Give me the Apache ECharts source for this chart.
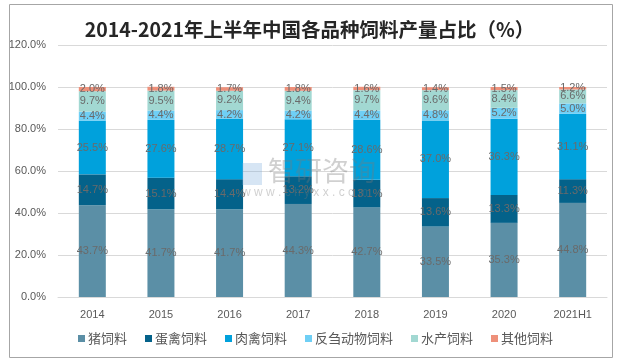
<!DOCTYPE html>
<html><head><meta charset="utf-8">
<script src="https://cdn.jsdelivr.net/npm/echarts@6/dist/echarts.min.js"></script>
<style>html,body{margin:0;padding:0;background:#fff}#c{width:619px;height:362px}</style>
</head><body><div id="c"></div>
<script>
var categories = ['2014','2015','2016','2017','2018','2019','2020','2021H1'];
var seriesNames = ['猪饲料','蛋禽饲料','肉禽饲料','反刍动物饲料','水产饲料','其他饲料'];
var pig   = [43.7, 41.7, 41.7, 44.3, 42.7, 33.5, 35.3, 44.8];
var egg   = [14.7, 15.1, 14.4, 13.2, 13.1, 13.6, 13.3, 11.3];
var meat  = [25.5, 27.6, 28.7, 27.1, 28.6, 37.0, 36.3, 31.1];
var rum   = [4.4, 4.4, 4.2, 4.2, 4.4, 4.8, 5.2, 5.0];
var aqua  = [9.7, 9.5, 9.2, 9.4, 9.7, 9.6, 8.4, 6.6];
var other = [2.0, 1.8, 1.7, 1.8, 1.6, 1.4, 1.5, 1.2];
var yTicks = [0, 20, 40, 60, 80, 100, 120];

var colors = ['#5B8FA6', '#04628A', '#00A1DC', '#6FCFF5', '#A2D8D2', '#EE907A'];
var allData = [pig, egg, meat, rum, aqua, other];

var chart = echarts.init(document.getElementById('c'), null, {renderer:'canvas'});
var series = allData.map(function(d, i){
  return {
    name: seriesNames[i], type: 'bar', stack: 'total', barWidth: 27,
    itemStyle: {color: colors[i]},
    label: {show: true, position: 'inside', formatter: function(p){return p.value.toFixed(1)+'%';},
      color: '#6a6a6a', fontSize: 11, fontFamily: 'Liberation Sans, Arial, sans-serif'},
    data: d
  };
});
chart.setOption({
  animation: false,
  color: colors,
  title: {text: '2014-2021年上半年中国各品种饲料产量占比（%）', left: 'center', top: 15,
    textStyle: {fontSize: 19.5, fontWeight: 'bold', color: '#262626', fontFamily: 'Noto Sans CJK SC'}},
  grid: {left: 58, right: 12, top: 45, bottom: 65},
  legend: {top: 327, left: 73, itemWidth: 7, itemHeight: 7, itemGap: 18, icon: 'rect',
    textStyle: {fontSize: 13, color: '#595959', fontFamily: 'Noto Sans CJK SC', padding: [0,0,0,-2]},
    data: seriesNames},
  xAxis: {type: 'category', data: categories,
    axisLine: {lineStyle: {color: '#D9D9D9'}}, axisTick: {show: false},
    axisLabel: {color: '#595959', fontSize: 11, margin: 12, fontFamily: 'Liberation Sans, Arial, sans-serif'}},
  yAxis: {type: 'value', min: yTicks[0], max: yTicks[yTicks.length-1], interval: 20,
    axisLine: {show: false}, axisTick: {show: false},
    splitLine: {lineStyle: {color: '#D9D9D9'}},
    axisLabel: {color: '#595959', fontSize: 11, margin: 12, fontFamily: 'Liberation Sans, Arial, sans-serif',
      formatter: function(v){return v.toFixed(1)+'%';}}},
  graphic: [
    {type: 'rect', shape: {x: 9.5, y: 4.5, width: 603, height: 353}, style: {fill: 'none', stroke: '#A6A6A6', lineWidth: 1}, z: 100},
    {type: 'text', left: 268, top: 157, z: 100, style: {text: '智研咨询', fontSize: 27, fill: 'rgba(120,120,120,0.35)', fontFamily: 'Noto Sans CJK SC'}},
    {type: 'text', left: 242, top: 187, z: 100, style: {text: 'w w w . c h y x x . c o m', fontSize: 12, fill: 'rgba(120,120,120,0.35)', fontFamily: 'Liberation Sans'}},
    {type: 'rect', shape: {x: 242, y: 163, width: 20, height: 22}, style: {fill: 'rgba(120,170,220,0.3)'}, z: 100}
  ],
  series: series
});
</script></body></html>
